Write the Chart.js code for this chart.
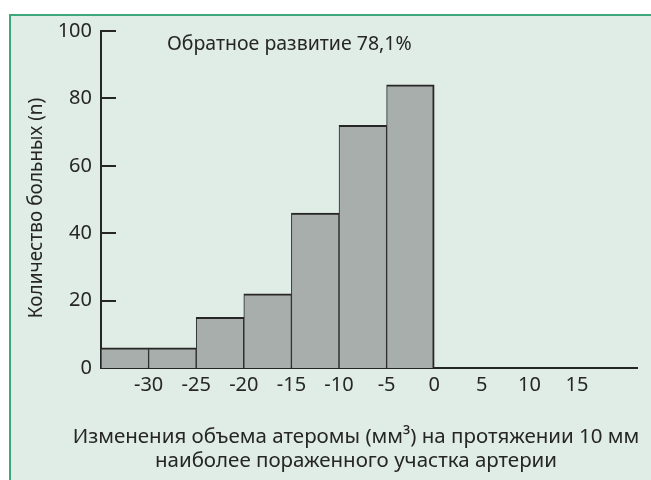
<!DOCTYPE html>
<html>
<head>
<meta charset="utf-8">
<script src="https://cdn.jsdelivr.net/npm/chart.js@4"></script>
<style>
  body { margin: 0; background: #fff; }
  #wrap { position: relative; width: 651px; height: 480px; overflow: hidden; }
  #panel {
    position: absolute; left: 9px; top: 14px; right: 0; bottom: 0;
    background: #e0ece6;
    border-left: 2px solid #3ea77b;
    border-top: 2px solid #3ea77b;
  }
  #chart { position: absolute; left: 0; top: 0; }
</style>
</head>
<body>
<div id="wrap">
  <div id="panel"></div>
  <canvas id="chart" width="651" height="480"></canvas>
</div>
<script>
const binEdges = [-35, -30, -25, -20, -15, -10, -5, 0];
const patientCounts = [6, 6, 15, 22, 46, 72, 84];
const xTickLabels = [-30, -25, -20, -15, -10, -5, 0, 5, 10, 15];
const yTickValues = [0, 20, 40, 60, 80, 100];
const noteText = "Обратное развитие 78,1%";
const yTitle = "Количество больных (n)";
const xTitle = ["Изменения объема атеромы (мм³) на протяжении 10 мм", "наиболее пораженного участка артерии"];

const FONT = "'Noto Sans', sans-serif";
const INK = "#262626";

// one bar per bin, centred in the bin
const bars = patientCounts.map((n, i) => ({ x: (binEdges[i] + binEdges[i + 1]) / 2, y: n }));
const lastBar = bars.length - 1;

// inward tick marks on y axis + free texts
const extras = {
  id: "extras",
  afterDatasetsDraw(chart) {
    const { ctx, scales: { x, y } } = chart;
    ctx.save();
    ctx.strokeStyle = INK;
    ctx.lineWidth = 2;
    yTickValues.slice(1).forEach(v => {
      const py = Math.round(y.getPixelForValue(v));
      ctx.beginPath();
      ctx.moveTo(x.left, py);
      ctx.lineTo(x.left + 15, py);
      ctx.stroke();
    });

    ctx.fillStyle = INK;
    ctx.textBaseline = "middle";
    ctx.textAlign = "left";
    ctx.font = "19.5px " + FONT;
    ctx.fillText(noteText, 167, 44);

    ctx.textAlign = "center";
    ctx.font = "20.5px " + FONT;
    ctx.fillText(xTitle[0], 356, 437);
    ctx.fillText(xTitle[1], 356, 461);

    ctx.font = "19px " + FONT;
    ctx.translate(37, 208);
    ctx.rotate(-Math.PI / 2);
    ctx.fillText(yTitle, 0, 0);
    ctx.restore();
  }
};

new Chart(document.getElementById("chart"), {
  type: "bar",
  data: {
    datasets: [{
      data: bars,
      backgroundColor: "#a7aeac",
      borderColor: INK,
      borderWidth: (c) => ({ top: 2, left: 1, right: c.dataIndex === lastBar ? 2 : 1, bottom: 0 }),
      borderSkipped: false,
      barPercentage: 1,
      categoryPercentage: 1,
    }],
  },
  plugins: [extras],
  options: {
    responsive: false,
    animation: false,
    devicePixelRatio: 1,
    layout: { padding: { left: 0, top: 31, right: 14, bottom: 0 } },
    plugins: { legend: { display: false }, tooltip: { enabled: false } },
    scales: {
      x: {
        type: "linear",
        offset: false,
        min: binEdges[0],
        max: 21.3,
        grid: { display: false, drawTicks: false },
        border: { display: true, color: INK, width: 2 },
        ticks: {
          stepSize: 5,
          includeBounds: false,
          autoSkip: false,
          maxRotation: 0,
          padding: 5,
          color: INK,
          font: { family: FONT, size: 20 },
          callback: (v) => xTickLabels.includes(v) ? String(v) : "",
        },
        afterFit: (s) => { s.height = 112; },
      },
      y: {
        min: 0,
        max: 100,
        grid: { display: false, drawTicks: false },
        border: { display: true, color: INK, width: 2 },
        ticks: {
          stepSize: 20,
          padding: 9,
          color: INK,
          font: { family: FONT, size: 20 },
        },
        afterFit: (s) => { s.width = 101; },
      },
    },
  },
});
</script>
</body>
</html>
